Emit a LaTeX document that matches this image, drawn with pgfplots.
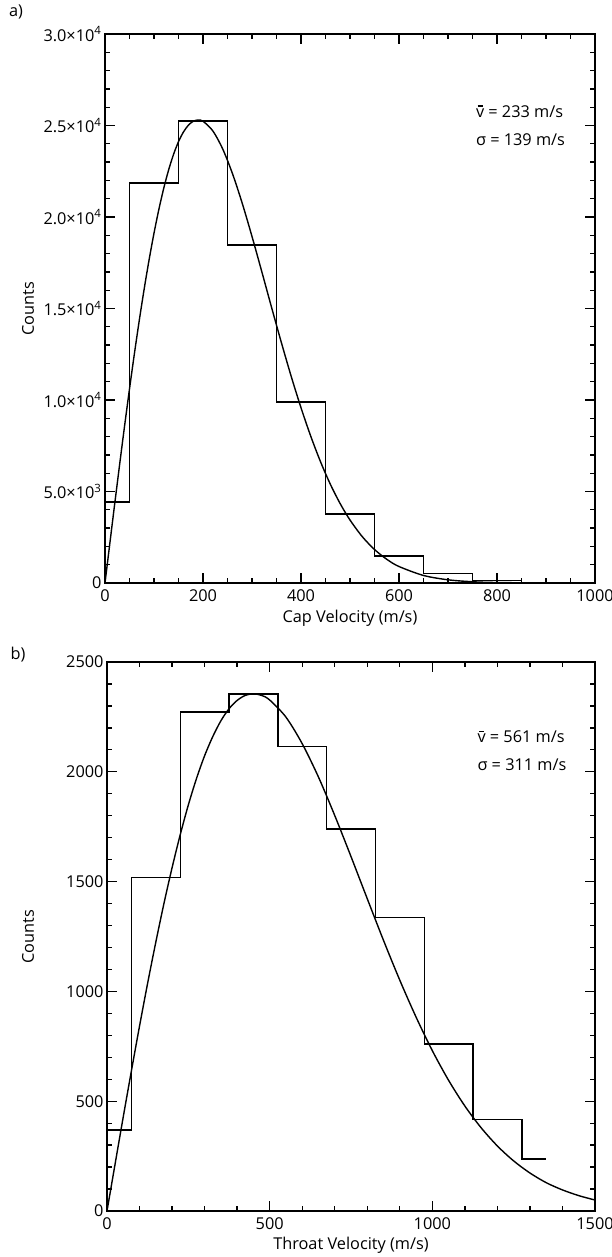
\documentclass[border=0pt]{standalone}
\usepackage{fontspec}
\setmainfont{Open Sans}
\usepackage{pgfplots}
\pgfplotsset{compat=1.18}
\newcommand\fsz{\fontsize{16.3}{19}\selectfont}
\newcommand\vbar{\ooalign{v\cr\hidewidth\raisebox{0.66em}{\rule{0.3em}{0.09em}}\hidewidth\cr}}
\pgfplotsset{
  myax/.style={
    scale only axis, anchor=south west,
    axis line style={line width=1.7pt},
    tick align=inside, major tick length=10pt, minor tick length=5pt,
    tick style={black, line width=1.3pt},
    tick label style={font=\fsz},
    xticklabel style={yshift=-3pt},
    label style={font=\fsz},
    /pgf/number format/assume math mode=true,
    /pgf/number format/1000 sep={},
    enlargelimits=false,
  },
  hist/.style={const plot, black, line width=1.4pt, no markers},
  fit/.style={smooth, black, line width=1.4pt, no markers},
}
\begin{document}
\begin{tikzpicture}
\useasboundingbox (0,0) rectangle (612pt,1257pt);
\node[font=\fsz, anchor=center] at (16pt,1245pt) {a)};
\node[font=\fsz, anchor=center] at (18pt,602pt) {b)};
% Panel a
\begin{axis}[myax, at={(105pt,674pt)}, width=490pt, height=549pt,
  xmin=0, xmax=1000, ymin=0, ymax=30000,
  xtick={0,200,400,600,800,1000}, minor x tick num=3,
  ytick={0,5000,10000,15000,20000,25000,30000}, minor y tick num=4,
  yticklabels={0, 5.0×10\textsuperscript{3}, 1.0×10\textsuperscript{4}, 1.5×10\textsuperscript{4}, 2.0×10\textsuperscript{4}, 2.5×10\textsuperscript{4}, 3.0×10\textsuperscript{4}},
  xlabel={Cap Velocity (m/s)}, ylabel={Counts},
  xlabel style={at={(axis description cs:0.5,-0.064)}, anchor=center},
  ylabel style={at={(axis description cs:-0.157,0.5)}, anchor=center},
  scaled y ticks=false,
]
\addplot[hist] coordinates {(0,4430)(50,21850)(150,25250)(250,18480)(350,9890)(450,3780)(550,1475)(650,510)(750,120)(850,120)};
\addplot[fit] coordinates {(0,0)(10,2192)(20,4367)(30,6505)(40,8590)(50,10604)(60,12532)(70,14359)(80,16074)(90,17662)(100,19116)(110,20424)(120,21581)(130,22585)(140,23430)(150,24116)(160,24640)(170,25010)(180,25229)(190,25300)(200,25231)(220,24706)(240,23729)(260,22380)(280,20755)(300,18935)(320,17010)(340,15053)(360,13132)(380,11290)(400,9577)(420,8013)(440,6615)(460,5389)(480,4334)(500,3441)(525,2534)(550,1830)(575,1296)(600,900)(650,411)(700,174)(750,68)(800,25)(900,3)(1000,0)};
\node[font=\fsz, anchor=west] at (axis cs:750,25750) {\vbar{} = 233 m/s};
\node[font=\fsz, anchor=west] at (axis cs:750,24250) {σ = 139 m/s};
\end{axis}
% Panel b
\begin{axis}[myax, at={(107pt,46pt)}, width=488pt, height=549pt,
  xmin=0, xmax=1500, ymin=0, ymax=2500,
  xtick={0,500,1000,1500}, minor x tick num=4,
  ytick={0,500,1000,1500,2000,2500}, minor y tick num=4,
  xlabel={Throat Velocity (m/s)}, ylabel={Counts},
  xlabel style={at={(axis description cs:0.5,-0.062)}, anchor=center},
  ylabel style={at={(axis description cs:-0.162,0.5)}, anchor=center},
]
\addplot[hist] coordinates {(0,368)(75,1520)(225,2272)(375,2354)(525,2115)(675,1740)(825,1337)(975,760)(1125,416)(1275,236)(1350,236)};
\addplot[fit] coordinates {(0,0)(25,215)(50,429)(75,638)(100,842)(125,1038)(150,1224)(175,1400)(200,1563)(225,1713)(250,1849)(275,1969)(300,2073)(325,2160)(350,2232)(375,2287)(400,2325)(425,2348)(450,2355)(475,2348)(500,2327)(550,2249)(600,2128)(650,1976)(700,1801)(750,1614)(800,1422)(850,1232)(900,1051)(950,883)(1000,730)(1050,595)(1100,478)(1150,379)(1200,296)(1250,228)(1300,173)(1350,129)(1400,96)(1450,70)(1500,50)};
\node[font=\fsz, anchor=west] at (axis cs:1128,2158) {\vbar{} = 561 m/s};
\node[font=\fsz, anchor=west] at (axis cs:1128,2031) {σ = 311 m/s};
\end{axis}
\end{tikzpicture}
\end{document}
